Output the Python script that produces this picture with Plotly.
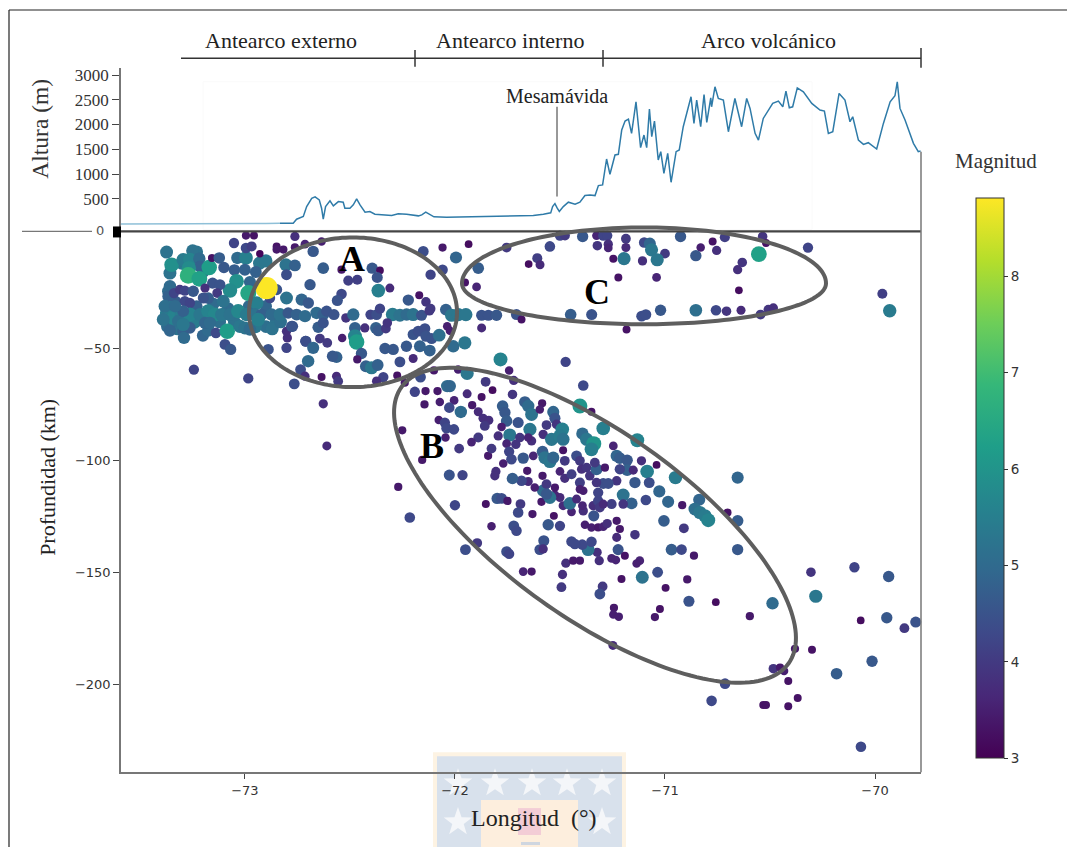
import numpy as np
import plotly.graph_objects as go

W, H = 1067, 847
SERIF = "Liberation Serif"
SANS = "DejaVu Sans"

# Topography profile: longitude (deg), altitude (m)
topo_lon = [-73.59,-73.3,-73.0,-72.9,-72.833,-72.77,-72.754,-72.722,-72.706,-72.682,-72.666,-72.646,-72.635,-72.627,-72.616,-72.595,-72.579,-72.555,-72.532,-72.524,-72.5,-72.484,-72.468,-72.452,-72.428,-72.405,-72.381,-72.341,-72.301,-72.27,-72.23,-72.174,-72.158,-72.139,-72.119,-72.1,-72.04,-71.881,-71.722,-71.627,-71.579,-71.544,-71.535,-71.524,-71.513,-71.503,-71.484,-71.46,-71.428,-71.405,-71.381,-71.357,-71.333,-71.317,-71.297,-71.278,-71.262,-71.238,-71.222,-71.206,-71.19,-71.174,-71.159,-71.138,-71.116,-71.1,-71.087,-71.074,-71.063,-71.05,-71.032,-71.02,-71.005,-70.987,-70.971,-70.947,-70.932,-70.913,-70.876,-70.862,-70.849,-70.83,-70.814,-70.801,-70.782,-70.778,-70.762,-70.746,-70.722,-70.698,-70.667,-70.635,-70.611,-70.595,-70.571,-70.555,-70.532,-70.508,-70.487,-70.46,-70.439,-70.424,-70.408,-70.392,-70.37,-70.341,-70.301,-70.262,-70.241,-70.222,-70.201,-70.171,-70.143,-70.119,-70.106,-70.079,-70.055,-70.032,-69.992,-69.96,-69.928,-69.905,-69.894,-69.881,-69.857,-69.817,-69.794,-69.783]
topo_alt = [-10,-10,-5,0,6,6,87,141,342,510,537,477,309,87,342,457,356,443,430,309,309,376,497,376,228,242,188,174,161,195,188,154,174,228,174,134,127,141,154,161,188,215,342,403,309,242,342,430,390,430,564,578,564,766,779,1303,994,1384,1397,1888,2069,2110,1821,2459,1532,1787,1532,2311,1754,2069,1283,1451,1014,1418,833,1451,1485,1955,2560,2022,2493,1955,2607,2043,2540,2358,2762,2526,2493,1854,2526,1955,2526,2325,1821,1686,2123,2291,2426,2473,2358,2674,2338,2358,2741,2661,2426,2291,2271,1821,1854,2627,2493,2056,2157,1686,1599,1633,1505,2022,2459,2580,2862,2325,2090,1619,1451,1465]

# Earthquakes (longitude, depth km, magnitude)
dense_fill = [
(-73.33,-31,4.7),(-73.23,-33,4.8),(-73.15,-32,5.0),(-73.08,-34,5.0),(-72.98,-33,5.0),(-72.9,-33,4.9),(-72.85,-40,5.2),(-72.9,-42,5.1),(-73.3,-14,5.3),(-73.23,-9,5.2),(-73.2,-18,4.9),(-73.05,-17,4.7),(-72.93,-14,5.3),(-72.9,-13,5.3),(-73.32,-43,5.2),(-73.2,-46,4.9),(-73.37,-42,5.0),(-73.12,-40,5.1),(-73.05,-40,5.2),(-72.95,-42,5.3),(-72.87,-43,5.2),(-72.83,-40,5.1),(-73.24,-40,5.4),(-73.33,-41,5.2),
]
outer_forearc = [
(-73.373,-9.1,5.2),(-73.249,-8.5,5.2),(-73.357,-18.4,5.2),(-73.349,-14.7,5.9),(-73.294,-12.5,5.4),(-73.262,-12.5,5.6),(-73.217,-12,5.0),(-73.214,-15.4,4.8),(-73.267,-16.2,5.8),(-73.27,-19.4,6.7),(-73.217,-20.9,6.3),(-73.17,-15.9,6.2),(-73.157,-11.7,3.3),(-73.122,-11.7,4.7),(-73.1,-15.9,4.6),(-73.052,-5.1,4.2),(-73.036,-11.7,5.0),(-72.995,-11.7,5.5),(-72.995,-7.3,4.3),(-72.968,-6.6,4.1),(-72.995,-1.8,3.4),(-72.957,-1.8,3.3),(-72.929,-9.8,3.1),(-73.0,-16.9,4.8),(-72.948,-17.9,4.8),(-72.976,-22.3,4.9),(-73.04,-22,5.9),(-73.071,-26.1,5.8),(-73.154,-22.8,4.5),(-73.119,-23.5,4.5),(-73.132,-27.2,4.0),(-73.19,-25,3.8),(-73.357,-24.2,5.0),(-73.365,-26.4,5.0),(-73.365,-28.6,4.8),(-73.338,-27.2,4.2),(-73.31,-25.7,4.0),(-73.286,-26.1,4.2),(-73.246,-26.4,4.6),(-73.286,-30.8,4.3),(-73.262,-31.6,4.2),(-73.175,-29.4,4.7),(-73.198,-29.4,4.5),(-73.103,-30.8,5.2),(-72.984,-27.2,6.4),(-72.849,-25.7,4.5),(-72.881,-29.4,4.3),(-72.802,-29.4,5.2),(-72.73,-30.1,4.9),(-72.698,-31.6,4.6),(-72.944,-31.6,5.5),(-72.849,-6.6,3.3),(-72.849,-8,3.4),(-72.817,-8,3.4),(-72.762,-2.2,3.8),(-72.762,-7,3.4),(-72.714,-5.6,3.6),(-72.805,-14.7,5.2),(-72.762,-15,4.8),(-72.802,-19.1,4.4),(-72.69,-23.5,4.6),
]
forearc_band = [
(-73.373,-36,5.4),(-73.349,-33.8,5.5),(-73.341,-38.2,5.6),(-73.302,-36.7,5.4),(-73.262,-36.7,5.6),(-73.214,-36.7,5.3),(-73.175,-35.2,5.6),(-73.143,-36.7,5.7),(-73.111,-36.7,5.3),(-73.071,-36.7,5.2),(-73.032,-35.2,5.7),(-72.992,-36.7,5.4),(-72.952,-36.7,5.2),(-72.921,-36.7,4.8),(-72.873,-36.7,5.0),(-72.833,-36.7,5.2),(-72.794,-36,4.6),(-72.754,-36.7,4.8),(-72.714,-37.4,5.0),(-73.357,-43.8,4.9),(-73.294,-44.1,4.8),(-73.29,-47,5.0),(-73.262,-42.6,4.7),(-73.175,-43.8,5.0),(-73.138,-44.8,4.3),(-73.084,-44.1,6.2),(-73.024,-41.9,5.3),(-73.0,-42.6,5.2),(-72.976,-43.3,5.0),(-73.095,-49.9,4.4),(-73.068,-52.1,4.6),(-72.889,-52.1,4.5),(-72.802,-51.4,4.2),(-72.798,-47,3.8),(-72.802,-44.1,3.8),(-72.773,-41.9,4.5),(-72.71,-48.5,4.5),(-73.381,-33,5.1),(-73.389,-38.9,5.2),(-73.317,-39.6,5.1),(-73.294,-41.1,5.3),(-73.19,-40.4,4.9),(-72.937,-38.9,5.5),(-73.167,-40.4,5.0),(-73.294,-35.2,4.8),(-73.333,-33,5.0),
(-72.659,-36,5.0),(-72.627,-36.7,4.8),(-72.611,-35.2,4.5),(-72.576,-36.7,4.5),(-72.519,-38.2,3.9),(-72.484,-36.7,5.0),(-72.402,-36.7,4.2),(-72.373,-36.7,4.4),(-72.357,-34.1,4.2),(-72.297,-36.7,5.4),(-72.262,-37,5.2),(-72.23,-36.7,5.0),(-72.199,-36.7,5.2),(-72.159,-37,4.5),(-72.122,-35,4.0),(-72.043,-34.5,4.8),(-72.016,-37,5.3),(-71.984,-36.7,5.3),(-71.948,-36.7,5.3),(-71.873,-37,4.5),(-71.841,-37,4.5),(-71.802,-37,4.6),(-71.707,-36.7,4.5),(-71.683,-38.9,3.3),
]
cluster_a = [
(-72.675,-8.8,4.6),(-72.635,-4.4,3.5),(-72.627,-16.2,4.7),(-72.54,-16.9,3.4),(-72.508,-21.7,4.1),(-72.465,-21.3,4.1),(-72.394,-16.2,4.6),(-72.357,-17.2,3.2),(-72.37,-20.3,4.5),(-72.365,-26.1,5.5),(-72.31,-25,3.7),(-72.54,-27.6,4.3),(-72.56,-30.5,4.5),(-72.222,-30.3,4.6),(-72.17,-28.2,3.3),(-72.138,-31.1,3.9),(-72.116,-34.1,4.0),(-72.151,-8.8,4.4),(-72.059,-7.1,3.4),(-71.995,-11.5,4.9),(-71.935,-5.6,3.2),(-72.116,-19.1,4.2),(-72.059,-16.9,4.3),(-71.889,-16.2,4.7),(-71.952,-22.5,3.3),(-71.897,-24.5,3.6),
(-72.778,-41.9,4.5),(-72.651,-42.3,4.7),(-72.627,-40.4,4.5),(-72.711,-48.5,4.4),(-72.675,-51.4,4.9),(-72.643,-47.3,4.0),(-72.608,-49.2,4.0),(-72.537,-47,3.5),(-72.476,-42.6,4.8),(-72.476,-46.3,5.6),(-72.468,-48.8,6.2),(-72.429,-42.6,3.8),(-72.376,-42.6,4.8),(-72.365,-43.8,4.6),(-72.329,-42.9,4.0),(-72.322,-40.4,3.9),(-72.445,-53.9,4.6),(-72.564,-55.5,4.8),(-72.583,-55.1,4.6),(-72.465,-56.5,3.4),(-72.699,-57.3,5.0),(-72.735,-61,4.4),(-72.714,-63.9,3.8),(-72.765,-67.3,4.4),(-72.635,-64.3,3.3),(-72.564,-63.9,3.7),(-72.556,-66.1,4.0),(-72.627,-76.1,3.8),(-72.61,-94.7,3.7),(-72.984,-64.9,4.2),(-73.243,-61,4.2),(-72.424,-59.5,4.8),(-72.397,-60.2,5.3),(-72.368,-59,4.8),(-72.333,-51.7,4.6),(-72.341,-64.3,4.2),(-72.373,-66.1,3.8),(-72.199,-45.5,4.5),(-72.175,-44,4.4),(-72.143,-42.9,4.4),(-72.138,-46.3,4.5),(-72.111,-47.3,4.5),(-72.075,-45.8,5.1),(-72.037,-41.9,3.5),(-72.024,-43.8,3.5),(-71.873,-42.6,3.7),
]
cluster_b = [
(-72.294,-52.1,4.6),(-72.231,-50.7,4.6),(-72.167,-50.7,4.8),(-72.12,-52.6,4.8),(-72.008,-50.7,5.0),(-71.953,-49.2,5.3),(-72.262,-57.6,4.4),(-72.199,-56.1,3.7),(-72.275,-63.6,3.3),(-72.239,-66.8,3.4),(-72.164,-64.3,4.4),(-72.1,-61.4,3.4),(-71.985,-61,3.5),(-71.942,-62.7,5.3),(-71.783,-56.5,5.6),(-71.742,-61.4,3.5),(-71.72,-65.8,3.8),(-71.473,-57.6,4.2),(-71.389,-68,4.3),(-72.191,-70.8,4.2),(-72.14,-70.5,3.4),(-72.083,-70.5,3.4),(-72.037,-68.3,5.0),(-72.024,-68.3,4.9),(-71.854,-66.4,4.0),(-71.821,-70.1,3.2),(-71.942,-71.7,3.7),(-71.873,-73.1,3.3),(-71.726,-72,3.9),(-72.145,-76.4,3.4),(-72.072,-75.3,3.5),(-72.004,-74.6,3.6),(-72.027,-77.8,4.3),(-71.972,-79.7,5.0),(-71.918,-76.7,3.4),(-71.889,-79.6,3.7),(-71.866,-82.5,3.8),(-71.839,-83.4,3.8),(-71.858,-85.9,4.0),(-72.077,-83.3,3.5),(-72.048,-84.4,4.2),(-72.04,-86.9,4.3),(-72.005,-87.4,4.3),(-72.251,-87.8,3.4),(-72.045,-91,3.5),(-71.889,-91,4.0),(-71.921,-93,3.6),(-71.98,-95.9,4.0),(-71.842,-99.1,3.4),(-72.156,-100.9,3.4),(-71.826,-95.9,4.0),(-71.794,-90.3,3.8),(-71.773,-77.1,4.7),(-71.762,-80,4.6),(-71.754,-83.7,4.7),(-71.778,-86.3,3.5),(-71.739,-89.9,5.3),(-71.754,-93.7,3.6),(-71.71,-94,3.9),(-71.742,-97.2,4.2),(-71.731,-100.6,4.3),(-71.77,-102.5,3.5),(-71.805,-106,3.8),(-71.81,-107.9,3.8),(-72.027,-107.6,4.5),(-71.964,-107.6,4.2),(-72.27,-112.8,3.4),
(-71.667,-75.3,4.7),(-71.651,-77.1,5.0),(-71.635,-80.8,5.2),(-71.585,-75.9,3.4),(-71.596,-78.6,3.5),(-71.532,-79.7,4.9),(-71.524,-82.5,4.5),(-71.699,-84.4,4.5),(-71.643,-87.4,5.3),(-71.564,-85.5,4.0),(-71.516,-85.2,3.9),(-71.691,-91,3.9),(-71.635,-92.5,3.8),(-71.651,-91,3.6),(-71.58,-89.6,3.8),(-71.54,-91.8,5.3),(-71.489,-87.4,5.5),(-71.5,-90.3,5.4),(-71.485,-91.8,5.2),(-71.405,-77.1,6.0),(-71.35,-79.6,3.3),(-71.294,-87,5.5),(-71.393,-89.3,5.0),(-71.373,-91.8,5.3),(-71.339,-93.7,6.0),(-71.35,-96.2,5.5),(-71.132,-92.2,5.6),(-71.246,-94.7,3.6),(-71.112,-101.3,3.8),(-71.04,-103.1,3.2),(-71.085,-106,5.5),(-70.95,-108.7,5.4),(-70.654,-108.7,4.9),(-71.23,-99.1,4.9),(-71.215,-100.1,4.7),(-71.18,-101,4.6),(-71.18,-105.4,4.8),(-71.215,-105,4.2),(-71.151,-105.4,3.7),(-71.23,-110.1,3.9),(-71.143,-110.9,4.6),(-71.075,-110.9,4.4),(-71.027,-114.8,4.9),(-70.985,-119.4,4.9),(-71.199,-116.4,5.2),(-71.159,-120.1,4.8),(-71.091,-118.6,4.3),(-71.199,-120.4,3.9),(-71.254,-120.4,4.1),(-70.918,-120.9,3.4),(-70.837,-118.5,4.9),(-70.858,-122.6,5.1),(-70.834,-124.1,5.3),(-70.81,-125.6,5.4),(-70.794,-127.5,5.6),(-70.702,-124.1,3.3),(-70.654,-127.8,4.7),(-71.005,-127.8,4.7),(-70.91,-131.1,4.0),(-70.654,-140.5,4.6),(-71.143,-133.9,3.9),(-71.23,-127.8,3.4),(-71.215,-131.4,3.4),(-71.23,-135.1,3.7),(-70.969,-140.5,4.7),(-70.921,-140.5,4.3),(-70.862,-143.2,3.4),(-71.223,-140.5,4.5),(-71.191,-143.2,3.3),(-71.254,-144.4,3.6),(-71.234,-145.1,3.6),(-71.12,-145.4,3.6),(-71.135,-146.6,3.5),(-71.035,-150.5,4.4),(-71.108,-152.7,5.2),(-71.207,-153.5,3.3),(-70.894,-153.7,3.4),(-70.997,-157.4,3.3),(-70.886,-163.3,4.5),(-70.758,-163.7,3.2),(-70.488,-164.2,5.0),(-70.596,-169.9,3.4),(-71.024,-166.7,3.3),(-71.048,-170.3,3.4),(-71.243,-166.2,3.4),(-71.246,-169.2,3.5),(-71.22,-170.1,3.5),(-71.297,-156.8,4.0),(-71.31,-160.1,4.4),(-71.493,-157.1,4.0),(-71.488,-151.5,3.8),(-71.675,-150.2,3.6),(-71.635,-150.2,3.4),(-71.472,-146.5,3.8),(-71.437,-145.4,3.4),(-71.405,-145.4,3.4),(-71.313,-145.4,3.8),(-71.323,-141.7,3.8),(-71.366,-140.5,5.2),(-71.35,-137,4.3),(-71.394,-138.3,4.3),(-71.445,-136.9,4.3),(-71.429,-138,4.3),(-71.577,-136.6,4.5),(-71.596,-140.5,4.4),(-71.58,-140.2,3.8),(-71.754,-141.4,4.4),(-71.742,-142.4,4.2),(-71.894,-137.6,4.0),(-71.95,-140.5,4.4),(-71.72,-130,4.4),(-71.707,-132.2,4.3),(-71.826,-130.2,3.5),(-71.556,-129.5,4.6),(-71.5,-130,4.2),(-71.381,-129.5,3.5),(-71.35,-130.7,3.5),(-71.318,-130.7,3.4),(-71.294,-130.4,3.6),(-71.275,-129,3.8),(-72.215,-126.3,4.3),(-72.0,-120.9,4.2),(-71.853,-120.4,3.3),(-71.799,-117.9,4.6),(-71.778,-117.9,4.4),(-71.75,-119,3.4),(-71.688,-120.4,4.0),(-71.699,-124.1,4.3),(-71.631,-124.8,3.4),(-71.529,-125.6,3.3),(-71.588,-119.4,3.4),(-71.485,-121.1,3.7),(-71.445,-123.8,3.6),(-71.453,-120.1,5.1),(-71.389,-123.4,3.8),(-71.393,-121.1,3.6),(-71.339,-125.6,4.5),(-71.342,-121.1,3.8),(-71.318,-119,4.2),(-71.31,-121.9,4.0),(-71.294,-120.4,3.7),(-71.318,-115.3,4.2),(-71.421,-118.2,3.7),(-71.5,-117.5,3.7),(-71.524,-116.3,3.6),(-71.548,-117.5,5.2),(-71.58,-114.5,5.0),(-71.564,-111.6,4.0),(-71.583,-107.9,3.4),(-71.62,-113.1,3.5),(-71.651,-110.4,3.7),(-71.683,-110.1,4.3),(-71.726,-109.1,4.7),(-71.656,-105.7,3.4),(-71.675,-100.1,4.6),(-71.627,-99.1,3.6),(-71.583,-97.2,4.7),(-71.572,-99.9,5.2),(-71.548,-101.6,5.3),(-71.532,-99.9,4.9),(-71.485,-96.6,3.3),(-71.477,-101.3,4.0),(-71.5,-106,3.6),(-71.477,-109,3.8),(-71.445,-107.2,4.1),(-71.421,-99.1,4.4),(-71.405,-101.3,4.0),(-71.397,-105,3.8),(-71.373,-104.3,3.9),(-71.405,-110.9,4.1),(-71.358,-107.9,3.9),(-71.326,-105,4.8),(-71.334,-102.1,4.0),(-71.286,-104.3,3.4),(-71.294,-111.3,4.4),(-71.27,-111.3,4.4),(-71.326,-110.9,3.9),(-71.389,-114.5,3.5),(-71.405,-113.8,3.5),(-71.524,-113.1,3.4),(-71.564,-116,4.6),(-71.248,-182.8,3.7),
]
cluster_c = [
(-71.754,-7.1,4.0),(-71.548,-6.6,4.3),(-71.5,-1.8,4.2),(-71.476,-1.8,4.0),(-71.392,-2.2,4.6),(-71.326,-1.8,3.6),(-71.294,-1.8,4.2),(-71.275,-1.8,4.2),(-71.322,-6.3,3.9),(-71.27,-5.6,3.8),(-71.27,-7.3,3.6),(-71.186,-3.2,4.0),(-71.186,-7.1,3.7),(-71.099,-4.9,4.3),(-71.072,-5.4,4.9),(-71.064,-8.1,5.3),(-71.0,-9.8,4.0),(-71.037,-12.5,5.3),(-71.107,-13,3.8),(-71.195,-12,5.3),(-71.246,-12,3.3),(-71.608,-11.8,4.1),(-71.595,-14.7,3.7),(-71.649,-14.4,3.2),(-71.222,-20.3,3.3),(-71.04,-20.3,3.6),(-70.926,-2.2,4.6),(-70.715,-2.5,4.1),(-70.773,-4.4,3.3),(-70.83,-7.1,3.5),(-70.853,-10.7,4.6),(-70.754,-8.4,3.8),(-70.535,-2.2,3.9),(-70.519,-5.1,3.3),(-70.553,-10,6.3),(-70.319,-7.1,4.2),(-70.632,-13.7,3.9),(-70.654,-16.9,3.8),(-70.648,-26,3.2),(-71.449,-36.7,4.7),(-71.349,-36.7,4.5),(-71.111,-37.4,4.4),(-71.091,-36.7,4.4),(-71.021,-34.8,4.6),(-70.853,-34.8,5.1),(-70.757,-34.8,4.3),(-70.707,-35.2,3.9),(-70.638,-34.8,3.7),(-70.545,-36.7,4.0),(-70.508,-34.5,3.9),(-70.484,-33.8,3.8),(-71.183,-43.3,3.3),
]
deep_east = [
(-70.305,-150.5,3.9),(-70.098,-148.3,4.2),(-69.935,-152.4,4.6),(-70.282,-161.1,5.3),(-70.068,-171.8,3.2),(-69.944,-170.6,4.6),(-69.86,-175.2,4.0),(-69.806,-172.5,4.5),(-70.381,-184.3,3.4),(-70.3,-184.7,3.3),(-70.484,-193.1,3.9),(-70.452,-192.6,3.4),(-70.433,-194.1,3.5),(-70.413,-198.5,3.3),(-70.368,-206,3.3),(-70.413,-209.7,3.3),(-70.532,-209.1,3.3),(-70.519,-209.1,3.3),(-70.714,-199.7,4.3),(-70.778,-207.3,4.3),(-70.014,-189.8,4.6),(-70.183,-195.3,4.7),(-70.067,-227.6,4.3),(-69.965,-27.5,4.1),(-69.93,-35,5.4),
]
largest_event = [(-72.897,-25,8.8)]

quakes = dense_fill + outer_forearc + forearc_band + cluster_a + cluster_b + cluster_c + deep_east + largest_event
lon = [q[0] for q in quakes]
# The depths above were read against a first estimate of the axis; recalibrated here to the printed depth ticks.
depth = [(2.27 * q[1] + 4.6) / 2.246 for q in quakes]
mag = [q[2] for q in quakes]

altitude_ticks = [500, 1000, 1500, 2000, 2500, 3000]
depth_ticks = [-50, -100, -150, -200]
depth_labels = ["−50", "−100", "−150", "−200"]
lon_ticks = [-73, -72, -71, -70]
lon_labels = ["−73", "−72", "−71", "−70"]
mag_ticks = [3, 4, 5, 6, 7, 8]


def px(x):
    return x / W


def py(y):
    return 1 - y / H


def path_from(xs, ys):
    return "M " + " L ".join(f"{px(a):.5f},{py(b):.5f}" for a, b in zip(xs, ys)) + " Z"


def ellipse(cx, cy, a, b, deg):
    t = np.linspace(0, 2 * np.pi, 181)[:-1]
    th = np.radians(deg)
    xs = cx + a * np.cos(t) * np.cos(th) - b * np.sin(t) * np.sin(th)
    ys = cy + a * np.cos(t) * np.sin(th) + b * np.sin(t) * np.cos(th)
    return path_from(xs, ys)


def egg(cx, cy, a, b_top, b_bottom):
    t = np.linspace(0, 2 * np.pi, 181)[:-1]
    s = np.sin(t)
    xs = cx + a * np.cos(t)
    ys = cy + np.where(s < 0, b_top, b_bottom) * s
    return path_from(xs, ys)


def star(cx, cy, r):
    ang = np.radians(-90 + 36 * np.arange(10))
    rad = np.where(np.arange(10) % 2 == 0, r, r * 0.4)
    return path_from(cx + rad * np.cos(ang), cy + rad * np.sin(ang))


def rect(x0, y0, x1, y1, fill, layer="below", line=None):
    return dict(type="rect", xref="paper", yref="paper", x0=px(x0), x1=px(x1), y0=py(y0), y1=py(y1),
                fillcolor=fill, line=dict(width=0) if line is None else line, layer=layer)


def seg(x0, y0, x1, y1, color="#333333", width=1.5, layer="above"):
    return dict(type="line", xref="paper", yref="paper", x0=px(x0), x1=px(x1), y0=py(y0), y1=py(y1),
                line=dict(color=color, width=width), layer=layer)


def label(x, y, text, size, family=SERIF, color="#222222", bold=False, angle=0):
    return dict(xref="paper", yref="paper", x=px(x), y=py(y), text=f"<b>{text}</b>" if bold else text,
                showarrow=False, textangle=angle, xanchor="center", yanchor="middle",
                font=dict(family=family, size=size, color=color))


shapes = [
    # page frame
    seg(9, 8, 9, 847, "#222222", 1.2, "below"), seg(9, 8, 1067, 8, "#222222", 1.2, "below"),
    # university watermark
    rect(433, 752, 626, 847, "#fdf3e3"),
    rect(437, 756, 622, 847, "#d8e1ec"),
    rect(481, 800, 578, 847, "#fdeedd"),
    rect(518, 808, 541, 835, "#f3cdd6"),
    rect(521, 842, 540, 845, "#cfd6e0"),
    # faint pasted panel
    rect(203, 80, 812, 228, "rgba(0,0,0,0)", line=dict(color="#fafafa", width=1)),
]
for sx, sy in [(458, 783), (495, 783), (532, 783), (567, 783), (602, 783), (458, 822), (602, 822)]:
    shapes.append(dict(type="path", xref="paper", yref="paper", path=star(sx, sy, 15), fillcolor="#f4f6f9",
                       line=dict(width=0), layer="below"))
shapes += [
    # zone bar
    seg(181, 56.5, 921, 56.5), seg(415, 48, 415, 65), seg(603, 48, 603, 65), seg(921, 46, 921, 66),
    # Mesamávida pointer
    seg(557, 105, 557, 195, "#333333", 1),
    # baseline, right spine, zero tick, black block
    seg(121, 230, 921, 230, "#444444", 2.2), seg(921, 150, 921, 772, "#777777", 1.5),
    seg(22, 230, 92, 230, "#777777", 1.3),
    rect(113, 225, 121, 236, "#000000", "above"),
]
for p in [ellipse(353, 311, 104, 75, 0), egg(644, 282, 182, 56, 41), ellipse(595, 524.5, 238, 93, 35.6)]:
    shapes.append(dict(type="path", xref="paper", yref="paper", path=p, line=dict(color="#5e5e5e", width=4),
                       fillcolor="rgba(0,0,0,0)", layer="above"))

annotations = [
    label(281, 39, "Antearco externo", 22), label(510, 39, "Antearco interno", 22), label(768, 39, "Arco volcánico", 22),
    label(557, 94, "Mesamávida", 20),
    label(40, 127, "Altura (m)", 23.5, angle=-90, color="#333333"),
    label(48, 477, "Profundidad (km)", 22, angle=-90),
    label(534, 818, "Longitud  (°)", 24),
    label(996, 159, "Magnitud", 21, color="#333333"),
    label(100, 229, "0", 13, family=SANS, color="#555555"),
    label(352, 258, "A", 36, bold=True, color="#000000"),
    label(432, 445, "B", 36, bold=True, color="#000000"),
    label(597, 291, "C", 36, bold=True, color="#000000"),
]

fig = go.Figure()
fig.add_trace(go.Scatter(x=topo_lon[:5], y=topo_alt[:5], xaxis="x2", yaxis="y2", mode="lines",
                         line=dict(color="#8fc0d8", width=1.4), hoverinfo="skip"))
fig.add_trace(go.Scatter(x=topo_lon[4:], y=topo_alt[4:], xaxis="x2", yaxis="y2", mode="lines",
                         line=dict(color="#2f7ba8", width=1.5), hoverinfo="skip"))
fig.add_trace(go.Scatter(x=lon, y=depth, mode="markers", cliponaxis=False,
                         marker=dict(size=[2.6 * m - 0.6 for m in mag], color=mag, colorscale="Viridis", cmin=3, cmax=8.81,
                                     opacity=1, line=dict(width=0), showscale=True,
                                     colorbar=dict(x=976 / W, xanchor="left", y=py(758), yanchor="bottom", len=560,
                                                   lenmode="pixels", thickness=28, thicknessmode="pixels", xpad=0, ypad=0,
                                                   outlinecolor="#333333", outlinewidth=1, tickvals=mag_ticks,
                                                   ticks="outside", ticklen=4, tickcolor="#333333",
                                                   tickfont=dict(family=SANS, size=13.5, color="#333333")))))

x_range = [-73.59, -69.781]
dom_x = [px(121), px(921)]
fig.update_layout(
    width=W, height=H, margin=dict(l=0, r=0, t=0, b=0), paper_bgcolor="white", plot_bgcolor="white", showlegend=False,
    xaxis=dict(domain=dom_x, range=x_range, anchor="y", tickvals=lon_ticks, ticktext=lon_labels, ticks="outside", ticklen=5,
               tickcolor="#444444", showgrid=False, zeroline=False, showline=True, linecolor="#777777", linewidth=1.5,
               tickfont=dict(family=SANS, size=13, color="#333333")),
    yaxis=dict(domain=[py(772), py(230)], range=[-239.3, 2.05], anchor="x", tickvals=depth_ticks, ticktext=depth_labels,
               ticks="outside", ticklen=6, tickcolor="#444444", showgrid=False, zeroline=False, showline=True,
               linecolor="#777777", linewidth=1.5, tickfont=dict(family=SANS, size=13, color="#333333")),
    xaxis2=dict(domain=dom_x, range=x_range, anchor="y2", visible=False),
    yaxis2=dict(domain=[py(230), py(66)], range=[-161, 3145], anchor="x2", tickvals=altitude_ticks, ticks="outside", ticklen=7,
                tickcolor="#444444", showgrid=False, zeroline=False, showline=True, linecolor="#777777", linewidth=1.5,
                tickfont=dict(family=SERIF, size=17, color="#333333")),
    shapes=shapes, annotations=annotations,
)
fig.write_html("out.html", config={"displayModeBar": False},
               post_script="document.body.style.margin='0';document.body.style.overflow='hidden';")
